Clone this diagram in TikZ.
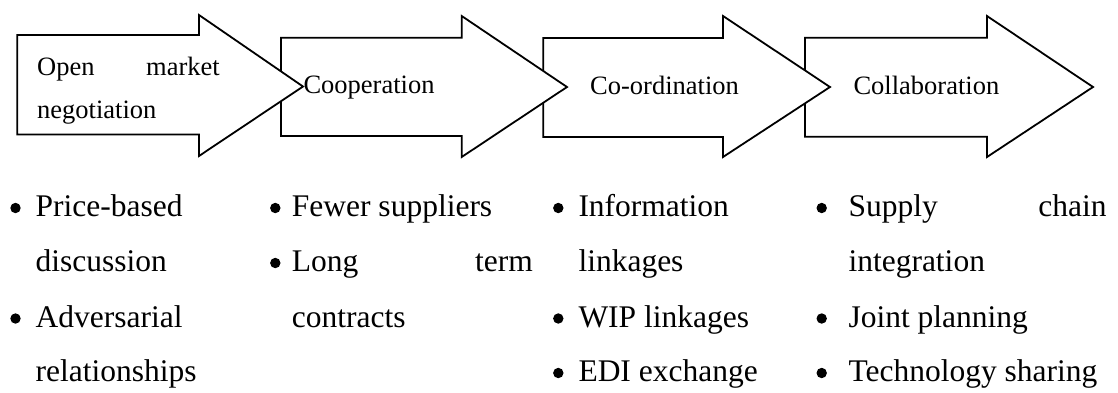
\documentclass[tikz,border=0pt]{standalone}
\usepackage{fontspec}
\setmainfont{Liberation Serif}
\begin{document}
\begin{tikzpicture}[x=1pt,y=-1pt,
  blockarrow/.style={draw=black,fill=white,line width=1.8pt,line join=miter},
  headtext/.style={inner sep=0pt,font=\fontsize{26.5}{30}\selectfont},
  listtext/.style={inner sep=0pt,font=\fontsize{31.5}{36}\selectfont},
  dot/.style={fill=black,draw=none}]
\useasboundingbox (0,0) rectangle (1118,392);

% block arrows, each later stage drawn first so the earlier head lies on top
\draw[blockarrow] (805,37.7) -- (987,37.7) -- (987,16) -- (1093,87) -- (987,157) -- (987,136.7) -- (805,136.7) -- cycle;
\draw[blockarrow] (543.3,38) -- (723,38) -- (723,16) -- (830,87) -- (723,157) -- (723,137) -- (543.3,137) -- cycle;
\draw[blockarrow] (281,37.7) -- (461.7,37.7) -- (461.7,16) -- (567,87) -- (461.7,157) -- (461.7,136) -- (281,136) -- cycle;
\draw[blockarrow] (17.3,35) -- (199,35) -- (199,15) -- (303,86.5) -- (199,156) -- (199,134.5) -- (17.3,134.5) -- cycle;

% stage labels
\node[headtext,anchor=base west] (open) at (37,75) {Open};
\node[headtext,anchor=base east] (market) at (220,75) {market};
\node[headtext,anchor=base west] (nego) at (37,118.5) {negotiation};
\node[headtext,anchor=base west] (coop) at (303.3,93.5) {Cooperation};
\node[headtext,anchor=base west] (coord) at (590,94) {Co-ordination};
\node[headtext,anchor=base west] (collab) at (853.3,94) {Collaboration};

% column 1
\fill[dot] (15.5,208) circle (5.2);
\fill[dot] (15.5,318.5) circle (5.2);
\node[listtext,anchor=base west] (c1a) at (35.5,216.5) {Price-based};
\node[listtext,anchor=base west] (c1b) at (35.5,271) {discussion};
\node[listtext,anchor=base west] (c1c) at (35.5,327) {Adversarial};
\node[listtext,anchor=base west] (c1d) at (35.5,381.5) {relationships};

% column 2
\fill[dot] (275.3,208) circle (5.2);
\fill[dot] (275.3,263) circle (5.2);
\node[listtext,anchor=base west] (c2a) at (291.7,216.5) {Fewer suppliers};
\node[listtext,anchor=base west] (c2b) at (291.7,271) {Long};
\node[listtext,anchor=base east] (c2c) at (533,271) {term};
\node[listtext,anchor=base west] (c2d) at (291.7,327) {contracts};

% column 3
\fill[dot] (558.3,208) circle (5.2);
\fill[dot] (558.3,318.5) circle (5.2);
\fill[dot] (558.3,373) circle (5.2);
\node[listtext,anchor=base west] (c3a) at (578.3,216.5) {Information};
\node[listtext,anchor=base west] (c3b) at (578.3,271) {linkages};
\node[listtext,anchor=base west] (c3c) at (578.3,327) {WIP linkages};
\node[listtext,anchor=base west] (c3d) at (578.3,381.5) {EDI exchange};

% column 4
\fill[dot] (821.7,208) circle (5.2);
\fill[dot] (821.7,318.5) circle (5.2);
\fill[dot] (821.7,373) circle (5.2);
\node[listtext,anchor=base west] (c4a) at (848.3,216.5) {Supply};
\node[listtext,anchor=base east] (c4b) at (1106.7,216.5) {chain};
\node[listtext,anchor=base west] (c4c) at (848.3,271) {integration};
\node[listtext,anchor=base west] (c4d) at (848.3,327) {Joint planning};
\node[listtext,anchor=base west] (c4e) at (848.3,381.5) {Technology sharing};
\end{tikzpicture}
\end{document}
